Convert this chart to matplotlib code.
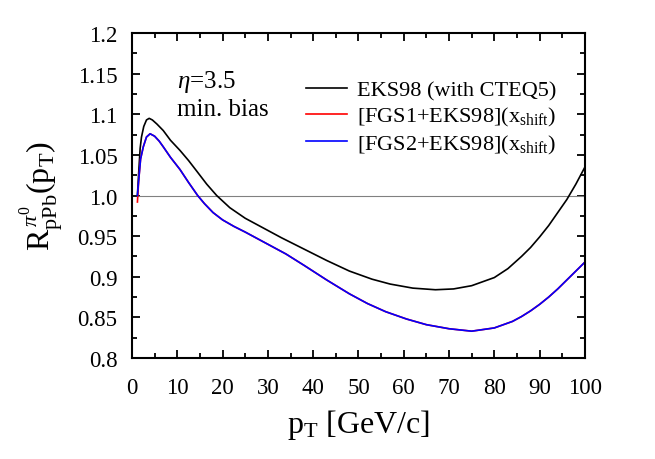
import matplotlib
matplotlib.use("Agg")
import matplotlib.pyplot as plt
from matplotlib.ticker import MultipleLocator, FixedLocator, FixedFormatter

plt.rcParams["font.family"] = ["Liberation Serif", "DejaVu Serif"]
plt.rcParams["mathtext.fontset"] = "custom"
plt.rcParams["mathtext.rm"] = "Liberation Serif"
plt.rcParams["mathtext.it"] = "Liberation Serif:italic"
plt.rcParams["mathtext.bf"] = "Liberation Serif:bold"

# EKS98 (with CTEQ5)
eks_pt = [1.2, 1.5, 1.8, 2.1, 2.6, 3.2, 3.8, 4.5, 5.5, 6.9, 8.5, 10.6, 12.5,
          14.3, 16.5, 18.7, 21.6, 25, 29, 33, 38, 43, 48, 53, 57, 62, 67, 71,
          75, 80, 83, 86, 88, 90, 92, 94, 96, 98, 100]
eks_r = [1.000, 1.030, 1.058, 1.072, 1.085, 1.093, 1.095, 1.093, 1.088,
         1.080, 1.068, 1.0555, 1.043, 1.030, 1.014, 1.000, 0.985, 0.972,
         0.960, 0.948, 0.934, 0.920, 0.907, 0.897, 0.891, 0.886, 0.884,
         0.885, 0.889, 0.899, 0.910, 0.925, 0.936, 0.949, 0.963, 0.979,
         0.995, 1.014, 1.035]

# [FGS2+EKS98](x_shift)
fgs_pt = [1.2, 1.5, 1.9, 2.5, 3.2, 4.0, 5.0, 6.0, 6.9, 8.5, 10.6, 12.5, 14.5,
          16, 17.9, 20, 22.5, 25, 29, 34, 38, 43, 48, 52, 56, 60.6, 65, 70,
          75, 80, 84, 86, 88, 90, 92, 94, 96, 98, 100]
fgs2_r = [1.000, 1.020, 1.045, 1.060, 1.072, 1.076, 1.073, 1.067, 1.060,
          1.047, 1.032, 1.016, 1.000, 0.990, 0.979, 0.970, 0.962, 0.955,
          0.943, 0.928, 0.914, 0.896, 0.879, 0.867, 0.857, 0.848, 0.841,
          0.836, 0.833, 0.837, 0.845, 0.851, 0.858, 0.866, 0.875, 0.885,
          0.896, 0.907, 0.918]
# FGS1 lies under FGS2 everywhere except the very first point
fgs1_r = list(fgs2_r)
fgs1_r[0] = 0.992

labels = ["EKS98 (with CTEQ5)",
          r"[FGS1+EKS98](x$_{\mathrm{shift}}$)",
          r"[FGS2+EKS98](x$_{\mathrm{shift}}$)"]

yticks = [0.8, 0.85, 0.9, 0.95, 1.0, 1.05, 1.1, 1.15, 1.2]
ytick_labels = ["0.8", "0.85", "0.9", "0.95", "1.0", "1.05", "1.1", "1.15", "1.2"]


fig = plt.figure(figsize=(6.55, 4.6), dpi=100)
ax = fig.add_axes([0.2015, 0.2196, 0.6915, 0.7064])

ax.plot([1.2, 100], [1.0, 1.0], color="#808080", lw=0.8)
ax.plot(eks_pt, eks_r, color="black", lw=1.2, label=labels[0])
ax.plot(fgs_pt, fgs1_r, color="#ff0000", lw=1.2, label=labels[1])
ax.plot(fgs_pt, fgs2_r, color="#0000ff", lw=1.2, label=labels[2])

ax.set_xlim(0, 100)
ax.set_ylim(0.8, 1.2)
ax.xaxis.set_major_locator(MultipleLocator(10))
ax.xaxis.set_minor_locator(MultipleLocator(5))
ax.yaxis.set_major_locator(FixedLocator(yticks))
ax.yaxis.set_major_formatter(FixedFormatter(ytick_labels))
ax.yaxis.set_minor_locator(MultipleLocator(0.025))
ax.tick_params(which="both", direction="in", top=True, right=True,
               labelsize=16.5, width=1.3)
ax.tick_params(axis="x", which="major", pad=14)
ax.tick_params(axis="y", which="major", pad=10.5)
ax.tick_params(which="major", length=6)
ax.tick_params(which="minor", length=3.5)
for s in ax.spines.values():
    s.set_linewidth(1.5)

ax.set_xlabel(r"p$_{\mathrm{T}}$ [GeV/c]", fontsize=23, labelpad=6)
ax.set_ylabel(r"R$^{\,\pi^{0}}_{\mathrm{pPb}}$(p$_{\mathrm{T}}$)",
              fontsize=23, labelpad=8)

ax.text(10.0, 1.141, r"$\eta$=3.5", fontsize=18, ha="left", va="center")
ax.text(10.0, 1.107, "min. bias", fontsize=18, ha="left", va="center")

ax.legend(loc="upper left", bbox_to_anchor=(0.385, 0.855), frameon=False,
          fontsize=16, handlelength=1.85, handletextpad=0.45,
          labelspacing=0.2, borderaxespad=0, borderpad=0)

fig.savefig("out.png", dpi=100)
